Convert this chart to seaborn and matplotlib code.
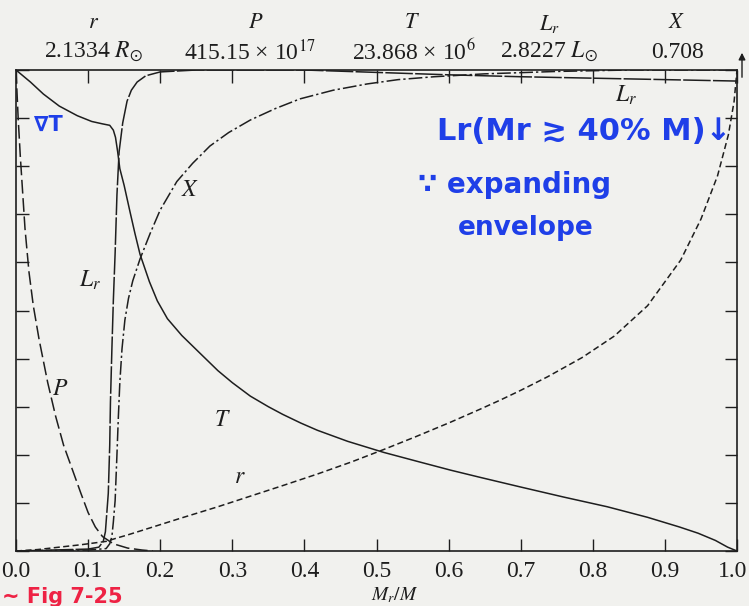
import numpy as np
import seaborn as sns
import matplotlib.pyplot as plt
import matplotlib.transforms as mtransforms

# profiles of a post-main-sequence star, each normalised to its maximum
# x = Mr/M
t_x = [0.0, 0.02, 0.038, 0.06, 0.085, 0.105, 0.12, 0.13, 0.135, 0.138, 0.141, 0.144,
       0.15, 0.158, 0.165, 0.172, 0.185, 0.196, 0.21, 0.23, 0.256, 0.28, 0.30, 0.325,
       0.35, 0.37, 0.395, 0.418, 0.46, 0.51, 0.56, 0.603, 0.644, 0.7, 0.76, 0.82,
       0.876, 0.92, 0.946, 0.97, 0.987, 1.0]
t_y = [1.0, 0.975, 0.95, 0.925, 0.905, 0.893, 0.888, 0.885, 0.875, 0.86, 0.83, 0.795,
       0.76, 0.706, 0.66, 0.617, 0.56, 0.52, 0.483, 0.448, 0.41, 0.375, 0.35, 0.322,
       0.3, 0.284, 0.266, 0.251, 0.228, 0.205, 0.185, 0.168, 0.153, 0.133, 0.112, 0.092,
       0.07, 0.05, 0.037, 0.022, 0.008, 0.0]

r_x = [0.0, 0.03, 0.06, 0.09, 0.11, 0.125, 0.14, 0.154, 0.19, 0.228, 0.28, 0.325,
       0.37, 0.418, 0.465, 0.51, 0.555, 0.603, 0.644, 0.672, 0.7, 0.737, 0.785, 0.83,
       0.876, 0.922, 0.95, 0.973, 0.988, 0.996, 1.0]
r_y = [0.0, 0.003, 0.008, 0.013, 0.017, 0.02, 0.027, 0.033, 0.05, 0.068, 0.092, 0.114,
       0.136, 0.16, 0.185, 0.211, 0.238, 0.268, 0.295, 0.314, 0.334, 0.362, 0.402, 0.447,
       0.51, 0.605, 0.69, 0.78, 0.865, 0.935, 1.0]

p_x = [0.0, 0.003, 0.006, 0.0125, 0.018, 0.024, 0.032, 0.044, 0.055, 0.066, 0.078,
       0.09, 0.1, 0.11, 0.12, 0.135, 0.155, 0.175, 0.19]
p_y = [1.0, 0.9, 0.82, 0.67, 0.58, 0.51, 0.44, 0.35, 0.28, 0.22, 0.17,
       0.12, 0.08, 0.05, 0.03, 0.015, 0.006, 0.002, 0.0]

lr_x = [0.0, 0.05, 0.1, 0.115, 0.121, 0.124, 0.126, 0.128, 0.13, 0.131, 0.133, 0.135,
        0.1375, 0.14, 0.143, 0.148, 0.154, 0.16, 0.168, 0.18, 0.2, 0.25, 0.4, 0.5,
        0.6, 0.7, 0.8, 0.9, 1.0]
lr_y = [0.0, 0.002, 0.004, 0.008, 0.02, 0.04, 0.08, 0.12, 0.22, 0.31, 0.42, 0.52,
        0.62, 0.74, 0.83, 0.89, 0.935, 0.958, 0.975, 0.988, 0.996, 1.0, 1.0, 0.995,
        0.99, 0.986, 0.983, 0.98, 0.977]

x_x = [0.0, 0.1, 0.125, 0.13, 0.133, 0.135, 0.1375, 0.14, 0.142, 0.144, 0.147, 0.151,
       0.156, 0.162, 0.172, 0.186, 0.2, 0.223, 0.245, 0.269, 0.295, 0.325, 0.36, 0.394,
       0.44, 0.487, 0.53, 0.58, 0.65, 0.75, 0.85, 1.0]
x_y = [0.0, 0.002, 0.005, 0.015, 0.03, 0.06, 0.105, 0.2, 0.28, 0.35, 0.42, 0.48,
       0.525, 0.562, 0.607, 0.66, 0.709, 0.768, 0.806, 0.842, 0.87, 0.896, 0.92, 0.94,
       0.958, 0.971, 0.98, 0.986, 0.992, 0.997, 1.0, 1.0]

head_names = ['$r$', '$P$', '$T$', '$L_r$', '$X$']
head_values = [r'2.1334 $R_{\odot}$', '415.15 × 10$^{17}$',
               '23.868 × 10$^{6}$', r'2.8227 $L_{\odot}$', '0.708']
head_name_px = [94, 256, 412, 549, 677]
head_val_px = [94, 250, 414, 549, 677]

sns.set_theme(style="white")
plt.rcParams['font.family'] = ['Liberation Serif', 'DejaVu Serif']
plt.rcParams['mathtext.fontset'] = 'stix'

paper = '#f1f1ee'
W, H = 749, 606
fig = plt.figure(figsize=(W / 100, H / 100), dpi=100, facecolor=paper)
ax = fig.add_axes([16 / W, 1 - 551 / H, (737 - 16) / W, (551 - 70) / H])
ax.set_facecolor(paper)

ink = '#1e1e1e'
curves = [
    (t_x, t_y, '-'),
    (r_x, r_y, (0, (4, 2.2))),
    (p_x, p_y, (0, (9, 3))),
    (lr_x, lr_y, (0, (18, 1.5))),
    (x_x, x_y, (0, (9, 2, 1.5, 2))),
]
for xs, ys, ls in curves:
    sns.lineplot(x=xs, y=ys, ax=ax, color=ink, lw=1.1, linestyle=ls,
                 estimator=None, sort=False)

ax.set_xlim(0, 1)
ax.set_ylim(0, 1)
ax.set_xticks(np.arange(0, 1.01, 0.1))
ax.set_yticks(np.arange(0, 1.01, 0.1))
ax.set_xticklabels([f'{v:.1f}' for v in np.arange(0, 1.01, 0.1)])
ax.tick_params(which='both', direction='in', top=True, right=True, bottom=True,
               left=True, length=9, width=1, color=ink, labelleft=False,
               labelsize=17, labelcolor=ink, pad=7)
for s in ax.spines.values():
    s.set_color(ink)
    s.set_linewidth(1.2)
ax.set_xlabel('')
ax.set_ylabel('')

# keep the last tick label inside the picture
last = ax.get_xticklabels()[-1]
last.set_transform(last.get_transform() +
                   mtransforms.ScaledTranslation(-4 / 100, 0, fig.dpi_scale_trans))

# curve labels
lab = dict(fontsize=17, color=ink, ha='center', va='center')
ax.text(0.242, 0.75, '$X$', **lab)
ax.text(0.103, 0.563, '$L_r$', **lab)
ax.text(0.061, 0.335, '$P$', **lab)
ax.text(0.286, 0.272, '$T$', **lab)
ax.text(0.311, 0.152, '$r$', **lab)
ax.text(0.846, 0.948, '$L_r$', **lab)

# header with the maxima
for name, val, pn, pv in zip(head_names, head_values, head_name_px, head_val_px):
    fig.text(pn / W, 1 - 24 / H, name, fontsize=16, color=ink, ha='center', va='center')
    fig.text(pv / W, 1 - 52 / H, val, fontsize=17, color=ink, ha='center', va='center')

fig.text(395 / W, 1 - 595 / H, '$M_r/M$', fontsize=14, color=ink, ha='center', va='center')

ax.annotate('', xy=(742 / W, 1 - 50 / H), xytext=(742 / W, 1 - 80 / H),
            xycoords='figure fraction', textcoords='figure fraction',
            arrowprops=dict(arrowstyle='-|>', color=ink, lw=1, mutation_scale=10))

# handwritten notes
blue = '#1f3fe8'
hand = dict(family=['DejaVu Sans'], fontweight='bold', color=blue, va='center')
fig.text(48 / W, 1 - 125 / H, '∇T', fontsize=15, ha='center', **hand)
fig.text(437 / W, 1 - 132 / H, 'Lr(Mr ≳ 40% M)↓', fontsize=22, ha='left', **hand)
fig.text(418 / W, 1 - 185 / H, '∵ expanding', fontsize=20, ha='left', **hand)
fig.text(458 / W, 1 - 228 / H, 'envelope', fontsize=19, ha='left', **hand)
fig.text(2 / W, 1 - 597 / H, '~ Fig 7-25', fontsize=15, ha='left',
         family=['DejaVu Sans'], fontweight='bold', color='#ee2244', va='center')

fig.savefig('out.png', dpi=100, facecolor=paper)
